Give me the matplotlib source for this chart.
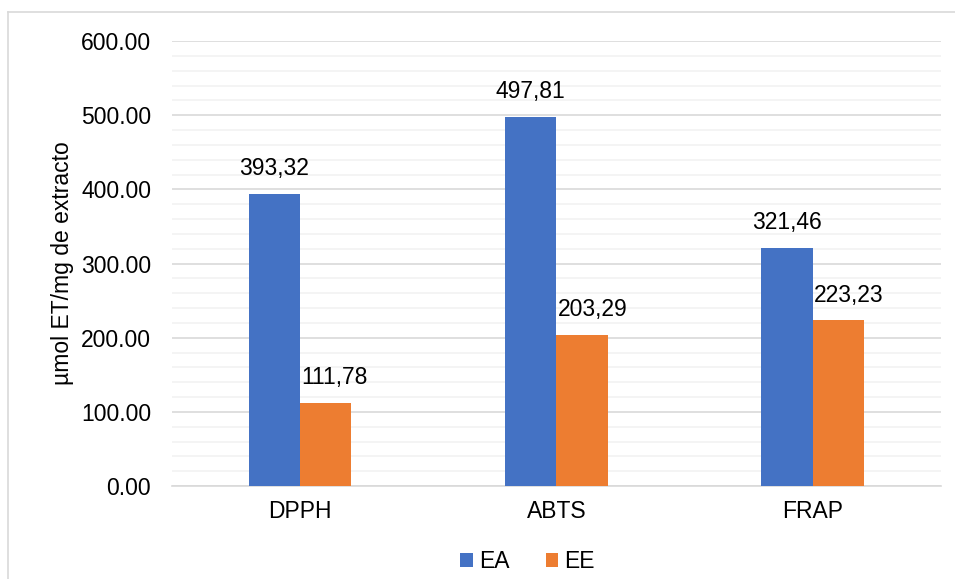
import numpy as np
import matplotlib.pyplot as plt
from matplotlib.lines import Line2D
from matplotlib.ticker import MultipleLocator

plt.rcParams['font.family'] = ['Liberation Sans', 'DejaVu Sans']

# datos
categorias = ["DPPH", "ABTS", "FRAP"]
ea = [393.32, 497.81, 321.46]
ee = [111.78, 203.29, 223.23]
etiquetas_ea = ["393,32", "497,81", "321,46"]
etiquetas_ee = ["111,78", "203,29", "223,23"]

azul = "#4472C4"
naranja = "#ED7D31"
fs = 16.5

fig = plt.figure(figsize=(9.55, 5.79), dpi=100)
ax = fig.add_axes([0.180, 0.1606, 0.805, 0.7685])

x = np.arange(len(categorias))
ancho = 0.2
b1 = ax.bar(x - ancho / 2, ea, ancho, color=azul, label="EA", zorder=3)
b2 = ax.bar(x + ancho / 2, ee, ancho, color=naranja, label="EE", zorder=3)

# etiquetas de EA centradas, las de EE alineadas al borde izquierdo de la barra
for b, t in zip(b1, etiquetas_ea):
    ax.annotate(t, (b.get_x() + b.get_width() / 2, b.get_height()),
                xytext=(0, 10), textcoords="offset points",
                ha="center", va="bottom", fontsize=fs)
for b, t in zip(b2, etiquetas_ee):
    ax.annotate(t, (b.get_x(), b.get_height()),
                xytext=(1, 10), textcoords="offset points",
                ha="left", va="bottom", fontsize=fs)

ax.set_xlim(-0.5, 2.5)
ax.set_ylim(0, 600)
ax.yaxis.set_major_locator(MultipleLocator(100))
ax.yaxis.set_minor_locator(MultipleLocator(20))
ax.set_yticks(np.arange(0, 601, 100))
ax.set_yticklabels([f"{v:.2f}" for v in np.arange(0, 601, 100)])
ax.set_xticks(x)
ax.set_xticklabels(categorias)

ax.grid(axis="y", which="major", color="#D9D9D9", linewidth=1.2, zorder=0)
ax.grid(axis="y", which="minor", color="#F2F2F2", linewidth=1.2, zorder=0)
ax.tick_params(axis="both", which="both", length=0, labelsize=fs)
ax.tick_params(axis="y", pad=15)
ax.tick_params(axis="x", pad=10)
for lado in ("top", "right", "left"):
    ax.spines[lado].set_visible(False)
ax.spines["bottom"].set_color("#D9D9D9")
ax.spines["bottom"].set_linewidth(1.2)

ax.set_ylabel("µmol ET/mg de extracto", fontsize=fs)
ax.yaxis.set_label_coords(-0.127, 0.5)

ax.legend(loc="center", bbox_to_anchor=(527.5 / 955, 1 - 562 / 579),
          bbox_transform=fig.transFigure, ncol=2, frameon=False, fontsize=fs,
          handlelength=0.55, handleheight=0.55, handletextpad=0.25,
          columnspacing=1.6, borderaxespad=0, borderpad=0)

# marco exterior del gráfico
fig.add_artist(Line2D([8 / 955, 8 / 955], [0, 1 - 12 / 579],
                      transform=fig.transFigure, color="#D9D9D9", lw=1.2))
fig.add_artist(Line2D([8 / 955, 1], [1 - 12 / 579, 1 - 12 / 579],
                      transform=fig.transFigure, color="#D9D9D9", lw=1.2))

fig.savefig("out.png", dpi=100)
